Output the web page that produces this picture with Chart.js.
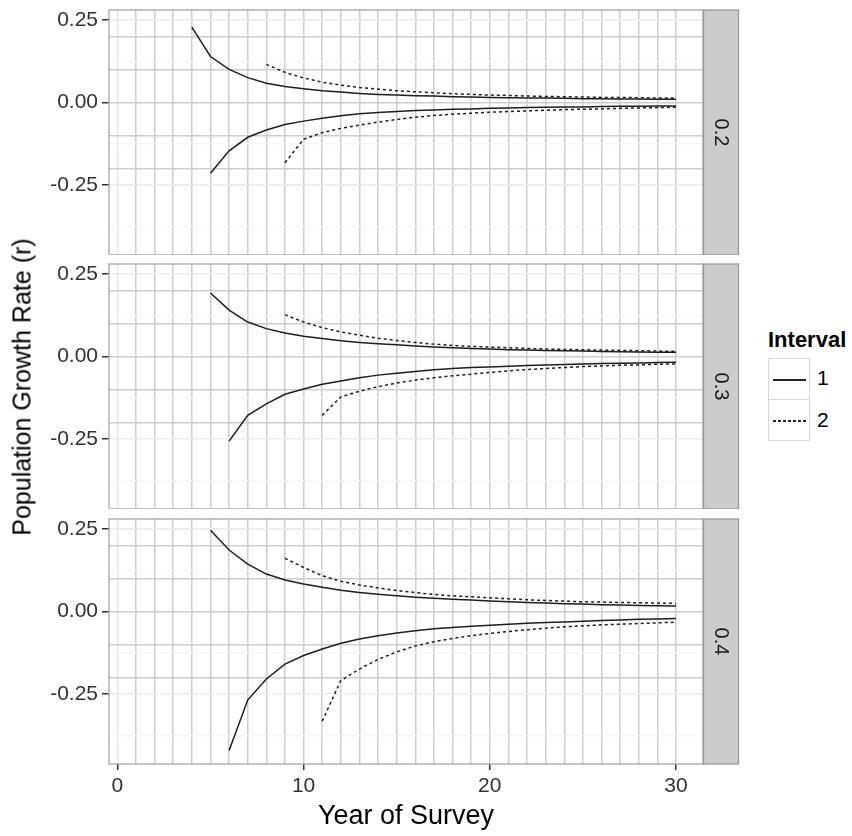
<!DOCTYPE html>
<html>
<head>
<meta charset="utf-8">
<script src="https://cdn.jsdelivr.net/npm/chart.js@4/dist/chart.umd.min.js"></script>
<style>
  body { margin: 0; background: #fff; font-family: "Liberation Sans", Arial, sans-serif; }
  #wrap { position: relative; width: 852px; height: 836px; overflow: hidden; }
  canvas { position: absolute; left: 0; }
  .ytitle { position: absolute; left: 22px; top: 387px; transform: translate(-50%, -50%) rotate(-90deg); font-size: 25px; white-space: nowrap; color: #000; }
  .xtitle { position: absolute; left: 406px; top: 815px; transform: translate(-50%, -50%); font-size: 27px; white-space: nowrap; color: #000; }
  #legend { position: absolute; left: 768px; top: 327px; }
  .ltitle { font-weight: bold; font-size: 22px; height: 31px; color: #000; }
  .key { position: relative; height: 42px; }
  .kbox { position: absolute; left: 0; top: 0; width: 40px; height: 40px; border: 1px solid #d9d9d9; background: #fff; }
  .key + .key .kbox { top: -1px; }
  .kline { position: absolute; left: 4px; width: 33px; top: 20px; height: 1.5px; }
  .solid { background: #222; }
  .dash { background: repeating-linear-gradient(to right, #222 0 3px, transparent 3px 5px); }
  .klab { position: absolute; left: 49px; top: 8px; font-size: 21px; color: #000; }
</style>
</head>
<body>
<div id="wrap">
  <canvas id="p1" width="745" height="255" style="top:0"></canvas>
  <canvas id="p2" width="745" height="254" style="top:255px"></canvas>
  <canvas id="p3" width="745" height="327" style="top:509px"></canvas>
  <div class="ytitle">Population Growth Rate (r)</div>
  <div class="xtitle">Year of Survey</div>
  <div id="legend">
    <div class="ltitle">Interval</div>
    <div class="key"><span class="kbox"><span class="kline solid"></span></span><span class="klab">1</span></div>
    <div class="key"><span class="kbox"><span class="kline dash"></span></span><span class="klab">2</span></div>
  </div>
</div>
<script>
// survey years 1..30
const years = [1,2,3,4,5,6,7,8,9,10,11,12,13,14,15,16,17,18,19,20,21,22,23,24,25,26,27,28,29,30];
const panelLabels = ['0.2', '0.3', '0.4'];
const intervals = ['1', '2'];

// panel 0.2
const p02Int1Upper = [null,null,null,0.229,0.140,0.101,0.076,0.059,0.049,0.042,0.036,0.032,0.028,0.025,0.023,0.021,0.020,0.018,0.017,0.016,0.015,0.014,0.014,0.013,0.012,0.012,0.011,0.011,0.010,0.010];
const p02Int1Lower = [null,null,null,null,-0.214,-0.146,-0.105,-0.083,-0.066,-0.056,-0.047,-0.040,-0.034,-0.030,-0.027,-0.024,-0.022,-0.020,-0.019,-0.017,-0.016,-0.015,-0.014,-0.013,-0.013,-0.012,-0.011,-0.011,-0.010,-0.010];
const p02Int2Upper = [null,null,null,null,null,null,null,0.116,0.092,0.075,0.062,0.053,0.046,0.041,0.036,0.033,0.030,0.027,0.025,0.023,0.022,0.020,0.019,0.018,0.017,0.016,0.016,0.015,0.014,0.014];
const p02Int2Lower = [null,null,null,null,null,null,null,null,-0.182,-0.111,-0.091,-0.078,-0.068,-0.059,-0.051,-0.044,-0.039,-0.035,-0.032,-0.029,-0.027,-0.025,-0.023,-0.021,-0.020,-0.019,-0.017,-0.016,-0.015,-0.014];

// panel 0.3
const p03Int1Upper = [null,null,null,null,0.193,0.141,0.105,0.085,0.072,0.062,0.055,0.048,0.043,0.039,0.036,0.032,0.029,0.027,0.025,0.023,0.021,0.020,0.019,0.018,0.017,0.016,0.015,0.014,0.013,0.013];
const p03Int1Lower = [null,null,null,null,null,-0.256,-0.178,-0.143,-0.114,-0.098,-0.084,-0.074,-0.064,-0.056,-0.050,-0.045,-0.040,-0.036,-0.033,-0.031,-0.029,-0.027,-0.025,-0.024,-0.022,-0.021,-0.020,-0.019,-0.018,-0.017];
const p03Int2Upper = [null,null,null,null,null,null,null,null,0.127,0.105,0.088,0.075,0.065,0.056,0.049,0.043,0.038,0.034,0.031,0.029,0.027,0.025,0.023,0.022,0.021,0.020,0.019,0.018,0.017,0.016];
const p03Int2Lower = [null,null,null,null,null,null,null,null,null,null,-0.178,-0.122,-0.105,-0.091,-0.080,-0.071,-0.064,-0.058,-0.053,-0.048,-0.043,-0.039,-0.036,-0.033,-0.030,-0.028,-0.026,-0.025,-0.023,-0.022];

// panel 0.4
const p04Int1Upper = [null,null,null,null,0.247,0.187,0.144,0.114,0.096,0.084,0.074,0.065,0.058,0.053,0.048,0.044,0.041,0.038,0.035,0.032,0.030,0.028,0.026,0.024,0.023,0.021,0.020,0.019,0.018,0.017];
const p04Int1Lower = [null,null,null,null,null,-0.421,-0.268,-0.204,-0.159,-0.133,-0.113,-0.096,-0.083,-0.073,-0.065,-0.058,-0.052,-0.048,-0.044,-0.041,-0.038,-0.035,-0.033,-0.031,-0.029,-0.027,-0.025,-0.023,-0.022,-0.021];
const p04Int2Upper = [null,null,null,null,null,null,null,null,0.162,0.134,0.109,0.092,0.081,0.072,0.064,0.058,0.052,0.048,0.045,0.042,0.039,0.036,0.034,0.032,0.030,0.029,0.028,0.027,0.026,0.025];
const p04Int2Lower = [null,null,null,null,null,null,null,null,null,null,-0.332,-0.209,-0.174,-0.145,-0.122,-0.104,-0.091,-0.081,-0.073,-0.066,-0.060,-0.055,-0.050,-0.046,-0.043,-0.040,-0.038,-0.036,-0.034,-0.032];

// axis ticks / grid
const xTickLabels = [0, 10, 20, 30];
const yTickLabels = [-0.25, 0, 0.25];
const yRefLines = [-0.2, -0.1, 0, 0.1, 0.2];
const yMinorLines = [-0.375, -0.125, 0.125];

const panels = [
  [p02Int1Upper, p02Int1Lower, p02Int2Upper, p02Int2Lower],
  [p03Int1Upper, p03Int1Lower, p03Int2Upper, p03Int2Lower],
  [p04Int1Upper, p04Int1Lower, p04Int2Upper, p04Int2Lower]
];

const near = (a, b) => Math.abs(a - b) < 1e-6;
const inList = (list, v) => list.some(t => near(t, v));

function toPoints(vals) {
  let pts = [];
  years.forEach((yr, i) => { if (vals[i] !== null) pts.push({x: yr, y: vals[i]}); });
  return pts;
}

const panelFrame = {
  id: 'panelFrame',
  afterDraw(chart, args, opts) {
    const {ctx, chartArea: a} = chart;
    ctx.save();
    ctx.strokeStyle = '#a6a6a6';
    ctx.lineWidth = 1.3;
    ctx.strokeRect(a.left, a.top, a.right - a.left, a.bottom - a.top);
    // facet strip on the right
    const sx = a.right + 0.5, sw = 35;
    ctx.fillStyle = '#cccccc';
    ctx.fillRect(sx, a.top, sw, a.bottom - a.top);
    ctx.strokeStyle = '#9a9a9a';
    ctx.strokeRect(sx, a.top, sw, a.bottom - a.top);
    ctx.translate(sx + sw / 2, (a.top + a.bottom) / 2);
    ctx.rotate(Math.PI / 2);
    ctx.fillStyle = '#1a1a1a';
    ctx.font = '20px "Liberation Sans", Arial, sans-serif';
    ctx.textAlign = 'center';
    ctx.textBaseline = 'middle';
    ctx.fillText(opts.label, 0, 0);
    ctx.restore();
  }
};

function makePanel(id, idx, padTop, showX) {
  const series = panels[idx];
  const datasets = series.map((vals, k) => ({
    label: 'Interval ' + intervals[k < 2 ? 0 : 1],
    data: toPoints(vals),
    borderColor: '#1e1e1e',
    borderWidth: 1.5,
    borderDash: k < 2 ? [] : [3, 3],
    pointRadius: 0,
    tension: 0,
    fill: false
  }));
  return new Chart(document.getElementById(id), {
    type: 'line',
    data: { datasets },
    plugins: [panelFrame],
    options: {
      responsive: false,
      animation: false,
      layout: { padding: { top: padTop, right: 42, left: 0, bottom: 0 } },
      plugins: {
        legend: { display: false },
        tooltip: { enabled: false },
        panelFrame: { label: panelLabels[idx] }
      },
      scales: {
        x: {
          type: 'linear',
          min: -0.45,
          max: 31.45,
          afterBuildTicks: s => { s.ticks = [0].concat(years).map(v => ({value: v})); },
          afterFit: s => { s.height = showX ? 72 : 0; s.paddingLeft = 0; s.paddingRight = 0; },
          border: { display: false },
          grid: {
            color: c => c.tick.value === 0 ? '#ebebeb' : '#cecece',
            lineWidth: 1.5,
            drawTicks: showX,
            tickLength: 6,
            tickColor: c => inList(xTickLabels, c.tick.value) ? '#333' : 'rgba(0,0,0,0)'
          },
          ticks: {
            display: showX,
            autoSkip: false,
            maxRotation: 0,
            padding: 4,
            color: '#333',
            font: { family: '"Liberation Sans", Arial, sans-serif', size: 21 },
            callback: v => inList(xTickLabels, v) ? String(v) : ''
          }
        },
        y: {
          min: -0.462,
          max: 0.281,
          afterBuildTicks: s => {
            s.ticks = yMinorLines.concat(yTickLabels, yRefLines)
              .sort((a, b) => a - b)
              .filter((v, i, arr) => i === 0 || !near(v, arr[i - 1]))
              .map(v => ({value: v}));
          },
          afterFit: s => { s.width = 109; s.paddingTop = 0; s.paddingBottom = 0; },
          border: { display: false },
          grid: {
            color: c => inList(yRefLines, c.tick.value) ? '#cecece' : (inList(yTickLabels, c.tick.value) ? '#ebebeb' : '#f7f7f7'),
            lineWidth: 1.5,
            tickLength: 7,
            tickColor: c => inList(yTickLabels, c.tick.value) ? '#333' : 'rgba(0,0,0,0)'
          },
          ticks: {
            autoSkip: false,
            padding: 4,
            color: '#333',
            font: { family: '"Liberation Sans", Arial, sans-serif', size: 21 },
            callback: v => inList(yTickLabels, v) ? v.toFixed(2) : ''
          }
        }
      }
    }
  });
}

makePanel('p1', 0, 10, false);
makePanel('p2', 1, 9, false);
makePanel('p3', 2, 10, true);
</script>
</body>
</html>
